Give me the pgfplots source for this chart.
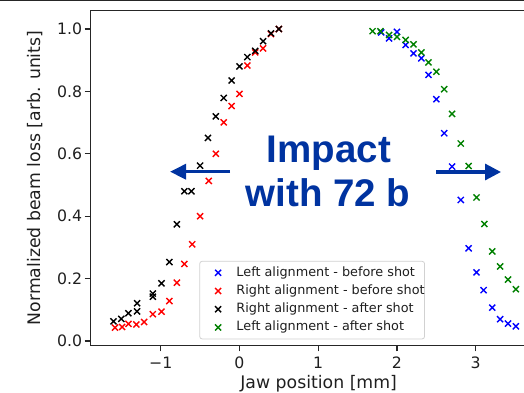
\documentclass[border=0pt]{standalone}
\usepackage{fontspec}
\setmainfont{DejaVu Sans}
\newfontfamily\annotfont{Liberation Sans}
\usepackage{pgfplots}
\usepackage{pgfplotstable}
\pgfplotsset{compat=1.18}
\usetikzlibrary{arrows.meta}

\definecolor{impactblue}{RGB}{0,51,160}
\definecolor{mplgreen}{RGB}{0,128,0}
\definecolor{spine}{RGB}{38,38,38}

% Left alignment - before shot
\pgfplotstableread{
x y
1.80 0.989
1.90 0.970
2.00 0.991
2.11 0.949
2.21 0.922
2.31 0.906
2.40 0.853
2.50 0.775
2.60 0.666
2.70 0.559
2.81 0.452
2.91 0.297
3.01 0.220
3.10 0.163
3.21 0.107
3.31 0.070
3.41 0.056
3.51 0.047
}\leftbefore

% Right alignment - before shot
\pgfplotstableread{
x y
-1.58 0.043
-1.49 0.045
-1.41 0.055
-1.31 0.053
-1.21 0.061
-1.10 0.086
-0.99 0.094
-0.89 0.128
-0.795 0.187
-0.70 0.247
-0.60 0.310
-0.50 0.400
-0.39 0.513
-0.30 0.600
-0.20 0.701
-0.10 0.753
0.00 0.792
0.10 0.883
0.20 0.925
0.30 0.938
0.40 0.984
0.50 1.000
}\rightbefore

% Right alignment - after shot
\pgfplotstableread{
x y
-1.60 0.063
-1.50 0.071
-1.41 0.089
-1.30 0.095
-1.30 0.121
-1.10 0.152
-1.10 0.142
-0.99 0.185
-0.89 0.253
-0.795 0.374
-0.70 0.480
-0.61 0.480
-0.50 0.562
-0.40 0.651
-0.30 0.720
-0.20 0.779
-0.10 0.835
0.00 0.880
0.10 0.910
0.20 0.930
0.30 0.961
0.40 0.986
0.50 1.000
}\rightafter

% Left alignment - after shot
\pgfplotstableread{
x y
1.69 0.993
1.79 0.993
1.90 0.981
2.00 0.975
2.11 0.965
2.21 0.951
2.31 0.925
2.40 0.893
2.50 0.863
2.60 0.807
2.70 0.728
2.81 0.633
2.91 0.561
3.01 0.460
3.11 0.375
3.21 0.287
3.31 0.239
3.41 0.197
3.51 0.166
}\leftafter

\begin{document}
\begin{tikzpicture}
\useasboundingbox (0pt,0pt) rectangle (524pt,392pt);
\begin{scope}
\clip (0pt,0pt) rectangle (524pt,392pt);
\begin{axis}[
  at={(90.7pt,46.7pt)}, anchor=south west,
  scale only axis, width=455.9pt, height=334.6pt,
  xmin=-1.889, xmax=3.9, ymin=-0.0138, ymax=1.0587,
  xtick={-1,0,1,2,3}, xticklabels={−1,0,1,2,3},
  ytick={0,0.2,0.4,0.6,0.8,1.0}, yticklabels={0.0,0.2,0.4,0.6,0.8,1.0},
  xtick pos=bottom, ytick pos=left,
  tick align=outside, major tick length=6pt,
  tick style={spine, line width=1.1pt},
  axis line style={spine, line width=1.1pt},
  tick label style={font=\fontsize{15.7}{18}\selectfont, text=black!88},
  xticklabel style={anchor=north, inner sep=0pt, yshift=-5.2pt},
  yticklabel style={anchor=east, inner sep=0pt, xshift=-2.5pt},
  xlabel={Jaw position [mm]},
  ylabel={Normalized beam loss [arb. units]},
  every axis x label/.style={at={(rel axis cs:0.5,0)}, anchor=base, yshift=-43.3pt,
    font=\fontsize{17.3}{20}\selectfont, text=black!88},
  every axis y label/.style={at={(rel axis cs:0,0.5)}, rotate=90, anchor=base, yshift=50.1pt,
    font=\fontsize{17.3}{20}\selectfont, text=black!88},
  legend cell align=left,
  legend image code/.code={\path (0pt,0pt) (36pt,0pt); \draw[#1] plot coordinates {(18pt,0pt)};},
  legend style={at={(0.2382,0.0179)}, anchor=south west,
    draw=black!18, line width=0.8pt, rounded corners=2.5pt, fill=white,
    font=\fontsize{12.8}{14}\selectfont, text=black!88,
    inner xsep=0pt, inner ysep=5.5pt, row sep=6.2pt,
    nodes={inner sep=0pt, text height=9.3pt, text depth=2.7pt}},
  cross/.style={only marks, mark=x, mark size=4.3pt, mark options={line width=1.4pt}},
]
\addplot[cross, color=blue] table[x=x,y=y] {\leftbefore};
\addlegendentry{Left alignment - before shot}
\addplot[cross, color=red] table[x=x,y=y] {\rightbefore};
\addlegendentry{Right alignment - before shot}
\addplot[cross, color=black] table[x=x,y=y] {\rightafter};
\addlegendentry{Right alignment - after shot}
\addplot[cross, color=mplgreen] table[x=x,y=y] {\leftafter};
\addlegendentry{Left alignment - after shot}
\end{axis}

% annotation
\node[anchor=base, text=impactblue, font=\annotfont\bfseries\fontsize{38.5}{40}\selectfont] at (329pt,229.3pt) {Impact};
\node[anchor=base, text=impactblue, font=\annotfont\bfseries\fontsize{38.5}{40}\selectfont] at (328pt,186pt) {with 72 b};
\draw[impactblue, line width=3.2pt, -{Triangle[length=16pt,width=15pt]}] (230pt,220.3pt) -- (170pt,220.3pt);
\draw[impactblue, line width=3.2pt, -{Triangle[length=16pt,width=16pt]}] (436pt,220pt) -- (501pt,220pt);

% dark edge along the top
\fill[black!85] (0pt,390.8pt) rectangle (524pt,392pt);
\end{scope}
\end{tikzpicture}
\end{document}
